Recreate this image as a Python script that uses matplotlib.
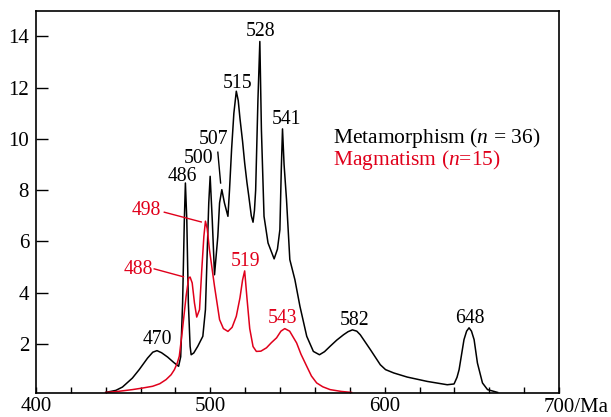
import matplotlib
matplotlib.use("Agg")
import matplotlib.pyplot as plt

plt.rcParams['font.family'] = ['Liberation Serif', 'DejaVu Serif']
plt.rcParams['mathtext.fontset'] = 'custom'
plt.rcParams['mathtext.rm'] = 'Liberation Serif'
plt.rcParams['mathtext.it'] = 'Liberation Serif:italic'

red = '#e0001b'

# metamorphism curve (age Ma, relative probability)
meta_age = [440.0, 445.8, 449.6, 455.3, 459.2, 464.0, 467.0, 469.4, 472.0, 475.5,
            479.0, 481.8, 483.0, 484.1, 485.1, 485.7, 486.5, 487.4, 488.4, 489.0,
            490.5, 492.8, 495.7, 497.2, 498.2, 499.1, 499.9, 501.1, 502.4, 504.3,
            505.3, 506.6, 508.1, 510.1, 511.0, 512.2, 513.5, 514.9, 516.0, 517.0,
            518.5, 519.7, 521.0, 522.0, 523.5, 524.5, 525.3, 526.0, 527.3, 528.4,
            529.3, 530.8, 533.1, 536.6, 538.5, 539.9, 540.7, 541.4, 542.3, 543.7,
            545.6, 548.5, 551.4, 555.3, 559.1, 562.6, 565.5, 568.7, 572.5, 576.4,
            579.0, 581.5, 584.0, 586.0, 591.8, 597.5, 600.5, 605.2, 612.9, 624.4,
            635.9, 639.8, 641.5, 642.7, 645.5, 647.0, 648.4, 649.8, 651.3, 653.2,
            656.1, 659.0, 664.8]
meta_val = [0.11, 0.19, 0.32, 0.67, 1.00, 1.45, 1.68, 1.74, 1.66, 1.49,
            1.28, 1.13, 1.50, 3.60, 6.85, 8.28, 6.85, 3.60, 1.91, 1.58,
            1.65, 1.91, 2.30, 3.34, 5.55, 7.50, 8.54, 6.85, 4.70, 6.20,
            7.50, 8.02, 7.50, 6.98, 8.00, 9.60, 11.00, 11.86, 11.50, 10.80,
            9.90, 9.06, 8.30, 7.80, 7.00, 6.75, 7.20, 8.00, 11.50, 13.80,
            10.36, 6.98, 5.94, 5.32, 5.70, 6.46, 8.80, 10.39, 9.00, 7.63,
            5.29, 4.51, 3.47, 2.30, 1.71, 1.58, 1.70, 1.91, 2.15, 2.36,
            2.48, 2.55, 2.50, 2.36, 1.78, 1.19, 1.00, 0.87, 0.71, 0.54,
            0.41, 0.44, 0.70, 1.00, 2.17, 2.50, 2.63, 2.50, 2.17, 1.26,
            0.48, 0.22, 0.11]

# magmatism curve
mag_age = [440.0, 447.0, 455.3, 461.0, 466.9, 471.0, 474.6, 477.5, 479.4, 481.0,
           482.2, 483.8, 486.1, 487.6, 488.4, 489.6, 490.9, 492.2, 493.8, 495.1,
           496.3, 497.2, 498.2, 499.5, 502.4, 505.3, 507.5, 510.1, 512.5, 514.9,
           517.0, 518.5, 519.7, 521.0, 522.6, 524.5, 526.4, 529.0, 532.2, 535.0,
           538.0, 540.5, 542.7, 545.5, 549.5, 552.0, 555.3, 558.0, 561.0, 564.5,
           568.7, 575.0, 581.0]
mag_val = [0.11, 0.15, 0.22, 0.28, 0.35, 0.45, 0.61, 0.80, 1.00, 1.25,
           1.52, 2.43, 3.86, 4.58, 4.61, 4.38, 3.60, 3.05, 3.34, 4.90,
           6.20, 6.79, 6.50, 5.68, 4.25, 2.95, 2.60, 2.49, 2.65, 3.08,
           3.80, 4.50, 4.85, 3.80, 2.60, 1.90, 1.71, 1.72, 1.85, 2.05,
           2.24, 2.50, 2.60, 2.50, 2.04, 1.60, 1.13, 0.75, 0.48, 0.33,
           0.22, 0.15, 0.11]

meta_peaks = ['470', '486', '500', '507', '515', '528', '541', '582', '648']
meta_peak_x = [469.6, 484.0, 493.2, 501.8, 515.4, 528.9, 543.9, 582.5, 648.8]
meta_peak_y = [2.17, 8.55, 9.25, 9.97, 12.18, 14.2, 10.75, 2.93, 3.0]
mag_peaks = ['498', '488', '519', '543']
mag_peak_x = [463.1, 458.6, 520.3, 541.6]
mag_peak_y = [7.22, 4.9, 5.23, 2.99]

fig = plt.figure(figsize=(6.11, 4.17), dpi=100)
ax = fig.add_axes([0.0589, 0.0583, 0.856, 0.916])

ax.plot(meta_age, meta_val, color='black', lw=1.1)
ax.plot(mag_age, mag_val, color=red, lw=1.1)

for s, x, y in zip(meta_peaks, meta_peak_x, meta_peak_y):
    ax.text(x, y, s, ha='center', va='center', fontsize=14.2, color='black')
for s, x, y in zip(mag_peaks, mag_peak_x, mag_peak_y):
    ax.text(x, y, s, ha='center', va='center', fontsize=14.2, color=red)

# leader lines
ax.plot([504.3, 505.9], [9.48, 8.28], color='black', lw=1)
ax.plot([473.6, 494.8], [7.14, 6.76], color=red, lw=1)
ax.plot([467.8, 484.6], [4.93, 4.62], color=red, lw=1)

ax.text(0.568, 0.667, 'Metamorphism ($n$ = 36)', transform=ax.transAxes,
        fontsize=15.5, color='black', va='center', ha='left')
ax.text(0.568, 0.609, 'Magmatism ($n$=15)', transform=ax.transAxes,
        fontsize=15.5, color=red, va='center', ha='left')

ax.set_xlim(400, 700)
ax.set_ylim(0.1, 15)
ax.set_xticks(range(400, 701, 20))
ax.set_xticklabels(['400', '', '', '', '', '500', '', '', '', '', '600', '', '', '', '', ''])
ax.set_yticks([2, 4, 6, 8, 10, 12, 14])
ax.tick_params(axis='x', direction='in', length=4.3, width=1, labelsize=15, pad=3)
ax.tick_params(axis='y', direction='in', length=8.6, width=1, labelsize=15, pad=5)
ax.annotate('700/Ma', xy=(700, 0), xycoords=('data', 'axes fraction'),
            xytext=(-11, -4), textcoords='offset points', ha='left', va='top', fontsize=15)
for sp in ax.spines.values():
    sp.set_linewidth(1.2)

plt.savefig('out.png', dpi=100)
